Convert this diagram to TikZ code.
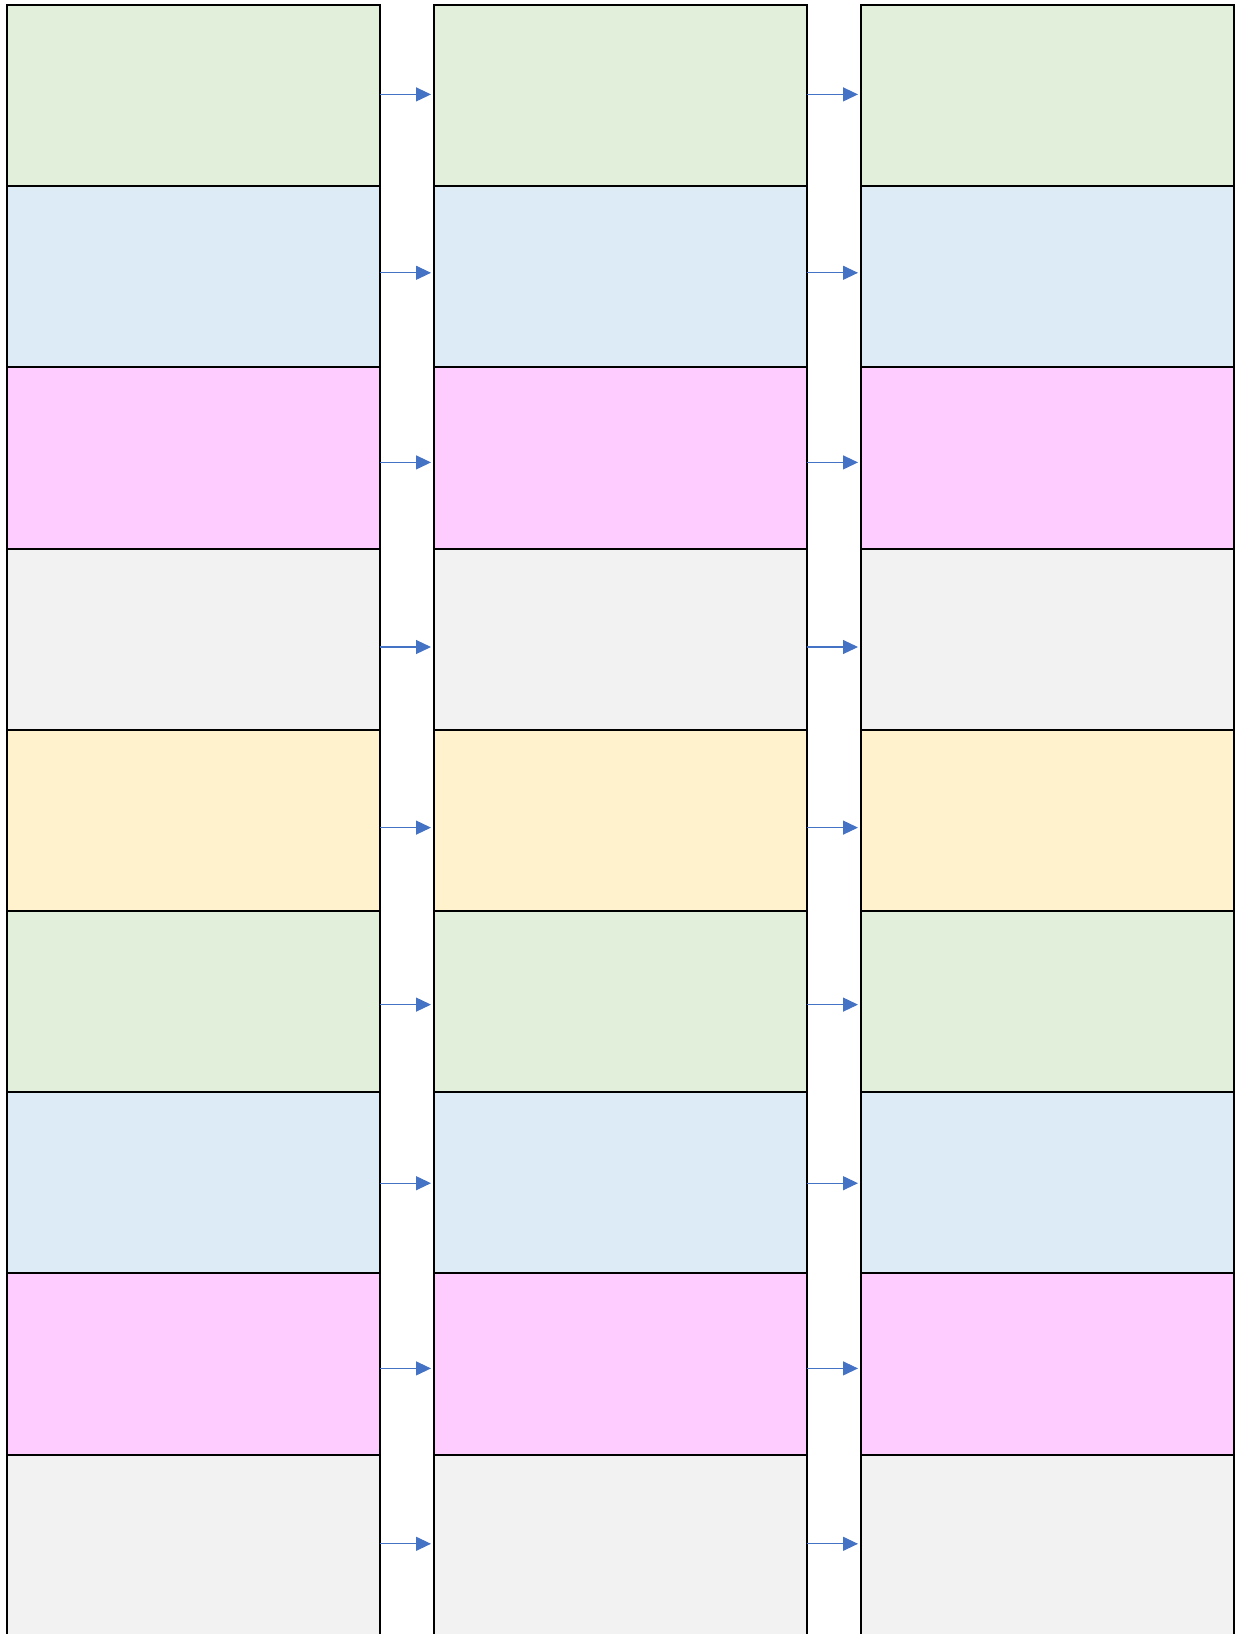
\documentclass[tikz,border=0pt]{standalone}
\usepackage{xcolor}
\usepackage{tikz}
\usetikzlibrary{arrows.meta,positioning}
\definecolor{leaf}{HTML}{E2EFDA}
\definecolor{sky}{HTML}{DDEBF7}
\definecolor{orchid}{HTML}{FFCCFF}
\definecolor{mist}{HTML}{F2F2F2}
\definecolor{cream}{HTML}{FFF2CC}
\definecolor{flow}{HTML}{4472C4}

\begin{document}
\begin{tikzpicture}[
  x=0.5pt, y=-0.5pt,
  cell/.style={draw=black, line width=1pt, outer sep=0pt, inner sep=0pt, minimum width=186.5pt, minimum height=90.6pt},
  arr/.style={-{Triangle[length=7.5pt,width=7pt]}, line width=0.6pt, flow, shorten >=1.5pt}
]
  \useasboundingbox (0,0) rectangle (1240,1634);
  % three columns of nine rows
  \foreach \k/\x in {1/193.5, 2/620.5, 3/1047.5}
    \foreach \r/\tint in {1/leaf, 2/sky, 3/orchid, 4/mist, 5/cream, 6/leaf, 7/sky, 8/orchid, 9/mist}
      \node[cell, fill=\tint] (c\k r\r) at (\x, {95.6+181.2*(\r-1)}) {};
  % arrows between the columns
  \foreach \r/\dy in {1/0.6pt, 2/2pt, 3/-2.2pt, 4/-3.9pt, 5/-3.6pt, 6/-1.5pt, 7/-0.2pt, 8/-2.2pt, 9/0.7pt} {
    \draw[arr] ([yshift=\dy]c1r\r.east) -- ([yshift=\dy]c2r\r.west);
    \draw[arr] ([yshift=\dy]c2r\r.east) -- ([yshift=\dy]c3r\r.west);
  }
\end{tikzpicture}
\end{document}
